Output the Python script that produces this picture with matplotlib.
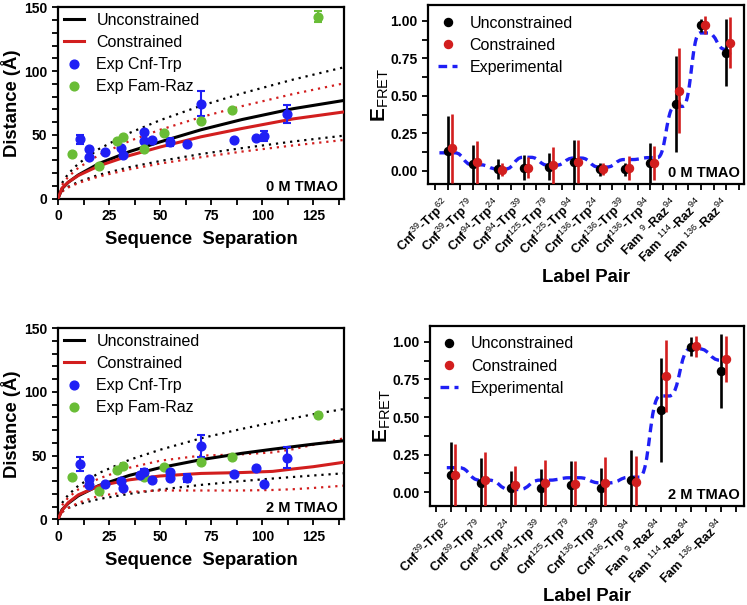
import numpy as np
import matplotlib
matplotlib.use('Agg')
import matplotlib.pyplot as plt
from matplotlib.path import Path
from matplotlib.patches import PathPatch
from matplotlib.lines import Line2D
from matplotlib.ticker import MultipleLocator, FixedLocator

plt.rcParams['font.family'] = ['Liberation Sans', 'DejaVu Sans']
plt.rcParams['mathtext.fontset'] = 'custom'
plt.rcParams['mathtext.rm'] = 'Liberation Sans'
plt.rcParams['mathtext.bf'] = 'Liberation Sans:bold'
plt.rcParams['mathtext.it'] = 'Liberation Sans:italic'

# ---------------- data: distance vs sequence separation ----------------
# 0 M TMAO
sep_cnf_0 = [11, 15, 15, 23, 31, 32, 42, 42, 46, 55, 63, 70, 86, 97, 101, 112]
dist_cnf_0 = [46.5, 39.2, 32.4, 36.4, 39.5, 34.5, 52.3, 45.2, 46.0, 44.4, 42.6, 74.2, 45.8, 47.6, 49.2, 66.4]
err_cnf_0 = [3.7, 0, 0, 0, 0, 0, 0, 0, 0, 3.0, 0, 9.8, 0, 0, 4.2, 7.4]
sep_fam_0 = [7, 20, 29, 32, 42, 52, 70, 85, 127]
dist_fam_0 = [35.0, 25.6, 45.2, 48.4, 39.2, 51.7, 60.7, 69.5, 142.7]
err_fam_0 = [0, 0, 0, 0, 0, 0, 0, 0, 4.6]

curve_x_0 = [0, 2, 5, 10, 20, 35, 50, 70, 90, 115, 140]
unc_0 = [0, 7.9, 12.8, 18.6, 27.5, 36.9, 44.5, 54.0, 62.0, 70.5, 77.0]
con_0 = [0, 8.3, 12.9, 18.2, 25.7, 33.8, 40.5, 48.5, 55.0, 62.5, 68.0]
band_x_0 = [2, 5, 10, 20, 35, 50, 70, 90, 115, 140]
unc_hi_0 = [12.3, 19.5, 27.5, 38.9, 51.5, 61.5, 72.8, 82.5, 93.3, 103.0]
con_hi_0 = [10.8, 17.1, 24.2, 34.2, 45.2, 54.0, 63.9, 72.5, 82.0, 90.4]
unc_lo_0 = [5.9, 9.3, 13.2, 18.7, 24.7, 29.5, 35.0, 39.6, 44.8, 49.4]
con_lo_0 = [5.5, 8.7, 12.3, 17.4, 23.0, 27.5, 32.5, 36.9, 41.7, 46.0]

# 2 M TMAO
sep_cnf_2 = [11, 15, 15, 23, 31, 32, 42, 40, 46, 55, 55, 63, 70, 86, 97, 101, 112]
dist_cnf_2 = [43.4, 31.4, 26.7, 27.5, 30.1, 24.3, 37.2, 34.5, 30.9, 37.0, 32.5, 32.2, 57.8, 35.8, 40.0, 28.0, 48.4]
err_cnf_2 = [5.2, 0, 0, 0, 0, 0, 2.5, 0, 0, 2.0, 2.0, 3.0, 8.6, 0, 0, 0, 8.4]
sep_fam_2 = [7, 20, 29, 32, 42, 52, 70, 85, 127]
dist_fam_2 = [33.5, 22.5, 39.0, 42.1, 33.5, 41.1, 45.3, 48.9, 81.9]

curve_x_2 = [0, 2, 5, 10, 20, 35, 50, 70, 90, 105, 115, 125, 140]
unc_2 = [0, 7.5, 12.5, 18.5, 26.5, 34.5, 40.5, 46.8, 51.8, 55.0, 57.0, 59.0, 61.7]
con_2 = [0, 7.0, 13.0, 19.2, 26.2, 31.0, 34.0, 36.0, 36.7, 37.6, 39.5, 41.3, 44.8]
band_x_2 = [2, 5, 10, 20, 35, 50, 70, 90, 105, 115, 125, 140]
unc_hi_2 = [12.8, 19.1, 26.4, 36.3, 46.7, 54.6, 63.6, 71.0, 76.0, 79.3, 82.5, 86.6]
con_hi_2 = [11.0, 17.0, 23.5, 32.0, 40.5, 46.0, 50.0, 51.0, 52.5, 55.0, 58.5, 63.6]
unc_lo_2 = [5.9, 8.9, 11.8, 15.9, 20.0, 23.3, 27.0, 30.0, 32.0, 33.2, 34.4, 36.1]
con_lo_2 = [5.5, 8.8, 13.0, 18.4, 21.5, 22.6, 22.6, 22.6, 23.0, 23.6, 24.6, 26.4]

# ---------------- data: FRET efficiencies ----------------
donor_0 = ['Cnf', 'Cnf', 'Cnf', 'Cnf', 'Cnf', 'Cnf', 'Cnf', 'Cnf', 'Cnf', 'Fam ', 'Fam ', 'Fam ']
donor_res_0 = ['39', '39', '94', '94', '125', '125', '136', '136', '136', '9', '114', '136']
acc_0 = ['-Trp', '-Trp', '-Trp', '-Trp', '-Trp', '-Trp', '-Trp', '-Trp', '-Trp', '-Raz', '-Raz', '-Raz']
acc_res_0 = ['62', '79', '24', '39', '79', '94', '24', '39', '94', '94', '94', '94']
e_unc_0 = [0.133, 0.044, 0.011, 0.022, 0.027, 0.058, 0.009, 0.009, 0.053, 0.444, 0.971, 0.787]
err_unc_0 = [0.23, 0.13, 0.065, 0.085, 0.09, 0.146, 0.045, 0.045, 0.134, 0.32, 0.045, 0.224]
e_con_0 = [0.151, 0.056, 0.007, 0.022, 0.036, 0.062, 0.009, 0.018, 0.053, 0.536, 0.973, 0.856]
err_con_0 = [0.23, 0.145, 0.042, 0.07, 0.124, 0.142, 0.04, 0.08, 0.113, 0.286, 0.063, 0.17]
e_exp_0 = [0.12, 0.04, 0.012, 0.09, 0.037, 0.085, 0.025, 0.075, 0.088, 0.43, 0.92, 0.81]

donor_2 = ['Cnf', 'Cnf', 'Cnf', 'Cnf', 'Cnf', 'Cnf', 'Cnf', 'Fam ', 'Fam ', 'Fam ']
donor_res_2 = ['39', '39', '94', '94', '125', '136', '136', '9', '114', '136']
acc_2 = ['-Trp', '-Trp', '-Trp', '-Trp', '-Trp', '-Trp', '-Trp', '-Raz', '-Raz', '-Raz']
acc_res_2 = ['62', '79', '24', '39', '79', '39', '94', '94', '94', '94']
e_unc_2 = [0.114, 0.058, 0.029, 0.031, 0.051, 0.029, 0.08, 0.546, 0.967, 0.804]
err_unc_2 = [0.222, 0.167, 0.114, 0.12, 0.158, 0.129, 0.2, 0.347, 0.063, 0.245]
e_con_2 = [0.111, 0.08, 0.045, 0.06, 0.056, 0.062, 0.071, 0.771, 0.971, 0.886]
err_con_2 = [0.21, 0.19, 0.13, 0.154, 0.153, 0.174, 0.169, 0.24, 0.071, 0.156]
e_exp_2 = [0.163, 0.08, 0.018, 0.08, 0.096, 0.062, 0.1, 0.64, 0.953, 0.878]

# ---------------- style ----------------
BLUE = '#1f1ff5'
GREEN = '#69bd36'
RED = '#d21e1e'
BLACK = '#000000'

fig = plt.figure(figsize=(7.47, 6.05), dpi=100)

def style_axes(ax):
    for s in ax.spines.values():
        s.set_linewidth(1.6)
    ax.tick_params(which='both', direction='out', width=1.3, length=4, labelsize=10)
    for lab in ax.get_xticklabels() + ax.get_yticklabels():
        lab.set_fontweight('bold')

def dist_panel(rect, cx, cu, cc, bx, uhi, chi, ulo, clo,
               sc, dc, ec, sf, df, ef, tag):
    ax = fig.add_axes(rect)
    ax.plot(bx, uhi, color=BLACK, ls=(0, (1, 2.2)), lw=1.6, zorder=2)
    ax.plot(bx, ulo, color=BLACK, ls=(0, (1, 2.2)), lw=1.6, zorder=2)
    ax.plot(bx, chi, color=RED, ls=(0, (1, 2.2)), lw=1.6, zorder=2)
    ax.plot(bx, clo, color=RED, ls=(0, (1, 2.2)), lw=1.6, zorder=2)
    l1, = ax.plot(cx, cu, color=BLACK, lw=2.2, zorder=3, label='Unconstrained')
    l2, = ax.plot(cx, cc, color=RED, lw=2.2, zorder=3, label='Constrained')
    ax.errorbar(sc, dc, yerr=ec, fmt='o', color=BLUE, ms=6.3, elinewidth=1.5,
                capsize=3, capthick=1.5, zorder=4)
    if ef is None:
        ax.plot(sf, df, 'o', color=GREEN, ms=6.3, zorder=4)
    else:
        ax.errorbar(sf, df, yerr=ef, fmt='o', color=GREEN, ms=6.3, elinewidth=1.5,
                    capsize=3, capthick=1.5, zorder=4)
    ax.set_xlim(0, 140)
    ax.set_ylim(0, 150)
    ax.xaxis.set_major_locator(MultipleLocator(25))
    ax.xaxis.set_minor_locator(MultipleLocator(12.5))
    ax.yaxis.set_major_locator(MultipleLocator(50))
    ax.yaxis.set_minor_locator(MultipleLocator(10))
    style_axes(ax)
    ax.set_xlabel('Sequence  Separation', fontsize=13.3, fontweight='bold')
    ax.set_ylabel('Distance (Å)', fontsize=13.3, fontweight='bold')
    ax.xaxis.set_label_coords(0.5, -0.17)
    ax.yaxis.set_label_coords(-0.128, 0.5)
    handles = [l1, l2,
               Line2D([], [], ls='none', marker='o', color=BLUE, ms=6.3),
               Line2D([], [], ls='none', marker='o', color=GREEN, ms=6.3)]
    ax.legend(handles, ['Unconstrained', 'Constrained', 'Exp Cnf-Trp', 'Exp Fam-Raz'],
              loc='upper left', frameon=False, fontsize=11.5, handlelength=1.25,
              handletextpad=0.8, labelspacing=0.45, borderaxespad=0.1,
              borderpad=0.25)
    ax.text(0.978, 0.038, tag, transform=ax.transAxes, ha='right', va='baseline',
            fontsize=10.5, fontweight='bold')
    return ax

def exp_path(pos, vals, w, start, end):
    verts = [(pos[0] - start, vals[0]), (pos[0] + w, vals[0])]
    codes = [Path.MOVETO, Path.LINETO]
    for i in range(1, len(pos)):
        x0 = pos[i - 1] + w
        x1 = pos[i] - w
        m = 0.5 * (x0 + x1)
        verts += [(m, vals[i - 1]), (m, vals[i]), (x1, vals[i])]
        codes += [Path.CURVE4] * 3
        verts.append((pos[i] + (end if i == len(pos) - 1 else w), vals[i]))
        codes.append(Path.LINETO)
    return Path(verts, codes)

def fret_panel(rect, donor, dres, acc, ares, eu, euerr, ec, ecerr, ee, xlim,
               start, tag, xlab_y):
    ax = fig.add_axes(rect)
    n = len(eu)
    pos = np.arange(n)
    dash = (0, (2.6, 1.6))
    path = exp_path(pos + 0.12, ee, 0.16, start, 0.12)
    patch = PathPatch(path, fill=False, edgecolor=BLUE, lw=2.4, ls=dash, zorder=2,
                      capstyle='butt')
    ax.add_patch(patch)
    ax.errorbar(pos, eu, yerr=euerr, fmt='o', color=BLACK, ms=5.8, elinewidth=1.9,
                capsize=0, zorder=3)
    ax.errorbar(pos + 0.15, ec, yerr=ecerr, fmt='o', color=RED, ms=5.8,
                elinewidth=1.9, capsize=0, zorder=4)
    ax.set_xlim(*xlim)
    ax.set_ylim(-0.09, 1.105)
    ax.yaxis.set_major_locator(MultipleLocator(0.25))
    ax.yaxis.set_minor_locator(MultipleLocator(0.125))
    ax.yaxis.set_major_formatter(matplotlib.ticker.FormatStrFormatter('%.2f'))
    ax.xaxis.set_major_locator(FixedLocator(pos))
    ax.xaxis.set_minor_locator(FixedLocator(np.arange(-0.5, n, 1.0)))
    labels = ['%s$^{\\mathrm{%s}}$%s$^{\\mathrm{%s}}$' % (d, dr, a, ar)
              for d, dr, a, ar in zip(donor, dres, acc, ares)]
    ax.set_xticklabels(labels)
    style_axes(ax)
    for lab in ax.get_xticklabels():
        lab.set_rotation(45)
        lab.set_ha('right')
        lab.set_va('center')
        lab.set_rotation_mode('anchor')
        lab.set_fontsize(9.2)
        lab.set_fontweight('bold')
    ax.tick_params(axis='x', which='major', pad=8)
    ax.set_xlabel('Label Pair', fontsize=13.3, fontweight='bold')
    ax.xaxis.set_label_coords(0.5, xlab_y)
    ax.set_ylabel('$\\mathbf{E}_{\\mathrm{FRET}}$', fontsize=15)
    ax.yaxis.set_label_coords(-0.118, 0.5)
    handles = [Line2D([], [], ls='none', marker='o', color=BLACK, ms=5.8),
               Line2D([], [], ls='none', marker='o', color=RED, ms=5.8),
               Line2D([], [], color=BLUE, lw=2.4, ls=dash)]
    ax.legend(handles, ['Unconstrained', 'Constrained', 'Experimental'],
              loc='upper left', frameon=False, fontsize=11.5, handlelength=1.15,
              handletextpad=0.8, labelspacing=0.45, borderaxespad=0.25,
              borderpad=0.4)
    ax.text(0.986, 0.04, tag, transform=ax.transAxes, ha='right', va='baseline',
            fontsize=10.5, fontweight='bold')
    return ax

dist_panel([0.0776, 0.6716, 0.383, 0.3164], curve_x_0, unc_0, con_0, band_x_0,
           unc_hi_0, con_hi_0, unc_lo_0, con_lo_0,
           sep_cnf_0, dist_cnf_0, err_cnf_0, sep_fam_0, dist_fam_0, err_fam_0,
           '0 M TMAO')
dist_panel([0.0776, 0.1417, 0.383, 0.3157], curve_x_2, unc_2, con_2, band_x_2,
           unc_hi_2, con_hi_2, unc_lo_2, con_lo_2,
           sep_cnf_2, dist_cnf_2, err_cnf_2, sep_fam_2, dist_fam_2, None,
           '2 M TMAO')
fret_panel([0.573, 0.6954, 0.423, 0.2959], donor_0, donor_res_0, acc_0, acc_res_0,
           e_unc_0, err_unc_0, e_con_0, err_con_0, e_exp_0, (-0.78, 11.7), 0.45,
           '0 M TMAO', -0.475)
fret_panel([0.5752, 0.1641, 0.4208, 0.297], donor_2, donor_res_2, acc_2, acc_res_2,
           e_unc_2, err_unc_2, e_con_2, err_con_2, e_exp_2, (-0.7, 9.76), 0.25,
           '2 M TMAO', -0.46)

fig.savefig('out.png', dpi=100)
